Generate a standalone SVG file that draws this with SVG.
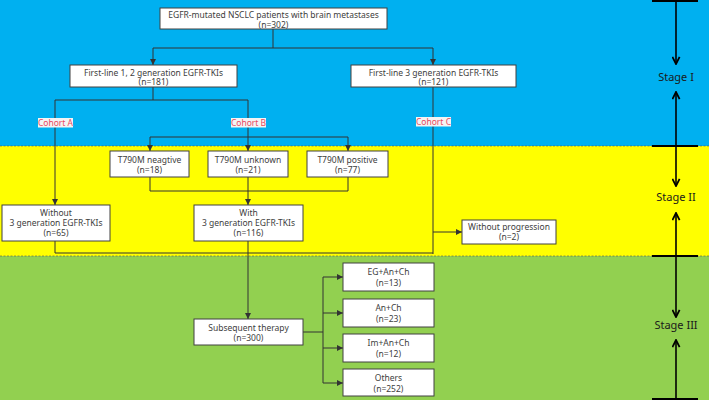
<svg xmlns="http://www.w3.org/2000/svg" width="709" height="400" viewBox="0 0 709 400">
<defs>
<marker id="ah" viewBox="0 0 10 10" refX="10" refY="5" markerWidth="6" markerHeight="6" markerUnits="userSpaceOnUse" orient="auto">
<path d="M0,0 L10,5 L0,10 z" fill="#333"/>
</marker>
<marker id="oh" viewBox="0 0 10 10" refX="9" refY="5" markerWidth="9" markerHeight="9" markerUnits="userSpaceOnUse" orient="auto">
<path d="M1,1 L9,5 L1,9" fill="none" stroke="#000" stroke-width="2"/>
</marker>
<style>
.box{fill:#fff;stroke:#404040;stroke-width:1}
.t{font-family:"Noto Sans","Open Sans",sans-serif;font-size:8.5px;fill:#404040;text-anchor:middle}
.c{fill:none;stroke:#333;stroke-width:1}
.a{marker-end:url(#ah)}
.cl{font-family:"Noto Sans","Open Sans",sans-serif;font-size:8.5px;fill:#e8495f;text-anchor:middle}
.clb{fill:#f4f4f4}
.st{font-family:"Noto Sans","Open Sans",sans-serif;font-size:11px;fill:#1a1a1a;text-anchor:middle}
.ax{fill:none;stroke:#000;stroke-width:1.6}
.tick{stroke:#000;stroke-width:2}
</style>
</defs>
<g id="bands">
<rect x="0" y="0" width="709" height="146" fill="#00b0f0"/>
<rect x="0" y="146" width="709" height="110" fill="#ffff00"/>
<rect x="0" y="256" width="709" height="144" fill="#92d050"/>
<line x1="0" y1="146" x2="709" y2="146" stroke="#555" stroke-width="0.6" stroke-dasharray="2,1.5"/>
<line x1="0" y1="256" x2="709" y2="256" stroke="#555" stroke-width="0.6" stroke-dasharray="2,1.5"/>
</g>
<g id="connectors">
<path class="c" d="M273,29 V48 M153,48 H433"/>
<path class="c a" d="M153,48 V65"/>
<path class="c a" d="M433,48 V65"/>
<path class="c" d="M153,87 V100 M55,100 H248 M248,100 V137 M150,137 H348"/>
<path class="c a" d="M55,100 V205"/>
<path class="c a" d="M150,137 V151"/>
<path class="c a" d="M248,137 V151"/>
<path class="c a" d="M348,137 V151"/>
<path class="c" d="M150,177 V191 M248,177 V191 M348,177 V191 M150,191 H348"/>
<path class="c a" d="M248,191 V205"/>
<path class="c" d="M433,87 V254"/>
<path class="c a" d="M433,232 H462"/>
<path class="c" d="M55,241 V253 H433"/>
<path class="c a" d="M248,241 V319"/>
<path class="c" d="M303,332 H323 M323,277 V383"/>
<path class="c a" d="M323,277 H343"/>
<path class="c a" d="M323,313 H343"/>
<path class="c a" d="M323,348 H343"/>
<path class="c a" d="M323,383 H343"/>
</g>
<g id="cohortA"><rect class="clb" x="38" y="118" width="35" height="9.5"/><text class="cl" x="55.5" y="125.5">Cohort A</text></g>
<g id="cohortB"><rect class="clb" x="231" y="118" width="35" height="9.5"/><text class="cl" x="248.5" y="125.5">Cohort B</text></g>
<g id="cohortC"><rect class="clb" x="416" y="117" width="35" height="9.5"/><text class="cl" x="433.5" y="124.5">Cohort C</text></g>
<g id="n-top"><rect class="box" x="160" y="8" width="227" height="21"/><text class="t" x="273.5" y="18">EGFR-mutated NSCLC patients with brain metastases</text><text class="t" x="273.5" y="27.5">(n=302)</text></g>
<g id="n-first12"><rect class="box" x="70" y="65" width="167" height="22"/><text class="t" x="153.5" y="75.5">First-line 1, 2 generation EGFR-TKIs</text><text class="t" x="153.5" y="85">(n=181)</text></g>
<g id="n-first3"><rect class="box" x="351" y="65" width="165" height="22"/><text class="t" x="433.5" y="75.5">First-line 3 generation EGFR-TKIs</text><text class="t" x="433.5" y="85">(n=121)</text></g>
<g id="n-neg"><rect class="box" x="110" y="151" width="79" height="26"/><text class="t" x="149.5" y="163">T790M neagtive</text><text class="t" x="149.5" y="173">(n=18)</text></g>
<g id="n-unk"><rect class="box" x="208" y="151" width="80" height="26"/><text class="t" x="248" y="163">T790M unknown</text><text class="t" x="248" y="173">(n=21)</text></g>
<g id="n-pos"><rect class="box" x="307" y="151" width="81" height="26"/><text class="t" x="347.5" y="163">T790M positive</text><text class="t" x="347.5" y="173">(n=77)</text></g>
<g id="n-without"><rect class="box" x="2" y="205" width="108" height="36"/><text class="t" x="56" y="216">Without</text><text class="t" x="56" y="226">3 generation EGFR-TKIs</text><text class="t" x="56" y="236">(n=65)</text></g>
<g id="n-with"><rect class="box" x="194" y="205" width="109" height="36"/><text class="t" x="248.5" y="216">With</text><text class="t" x="248.5" y="226">3 generation EGFR-TKIs</text><text class="t" x="248.5" y="236">(n=116)</text></g>
<g id="n-noprog"><rect class="box" x="462" y="220" width="94" height="24"/><text class="t" x="509" y="230">Without progression</text><text class="t" x="509" y="240">(n=2)</text></g>
<g id="n-subseq"><rect class="box" x="194" y="319" width="109" height="26"/><text class="t" x="248.5" y="331">Subsequent therapy</text><text class="t" x="248.5" y="341">(n=300)</text></g>
<g id="n-eg"><rect class="box" x="343" y="263" width="91" height="28"/><text class="t" x="388.5" y="275">EG+An+Ch</text><text class="t" x="388.5" y="286">(n=13)</text></g>
<g id="n-an"><rect class="box" x="343" y="299" width="91" height="28"/><text class="t" x="388.5" y="311">An+Ch</text><text class="t" x="388.5" y="322">(n=23)</text></g>
<g id="n-im"><rect class="box" x="343" y="334" width="91" height="28"/><text class="t" x="388.5" y="346">Im+An+Ch</text><text class="t" x="388.5" y="357">(n=12)</text></g>
<g id="n-others"><rect class="box" x="343" y="369" width="91" height="27"/><text class="t" x="388.5" y="381">Others</text><text class="t" x="388.5" y="392">(n=252)</text></g>
<g id="stages">
<line class="tick" x1="652" y1="1" x2="698" y2="1"/>
<line class="tick" x1="652" y1="146" x2="698" y2="146"/>
<line class="tick" x1="652" y1="256" x2="698" y2="256"/>
<line class="tick" x1="652" y1="399" x2="698" y2="399"/>
<path class="ax" d="M676,1 V64" marker-end="url(#oh)"/>
<path class="ax" d="M676,146 V92" marker-end="url(#oh)"/>
<path class="ax" d="M676,146 V186" marker-end="url(#oh)"/>
<path class="ax" d="M676,256 V213" marker-end="url(#oh)"/>
<path class="ax" d="M676,256 V317" marker-end="url(#oh)"/>
<path class="ax" d="M676,399 V340" marker-end="url(#oh)"/>
<text class="st" x="676" y="81">Stage I</text>
<text class="st" x="676" y="201">Stage II</text>
<text class="st" x="676" y="329">Stage III</text>
</g>
</svg>
